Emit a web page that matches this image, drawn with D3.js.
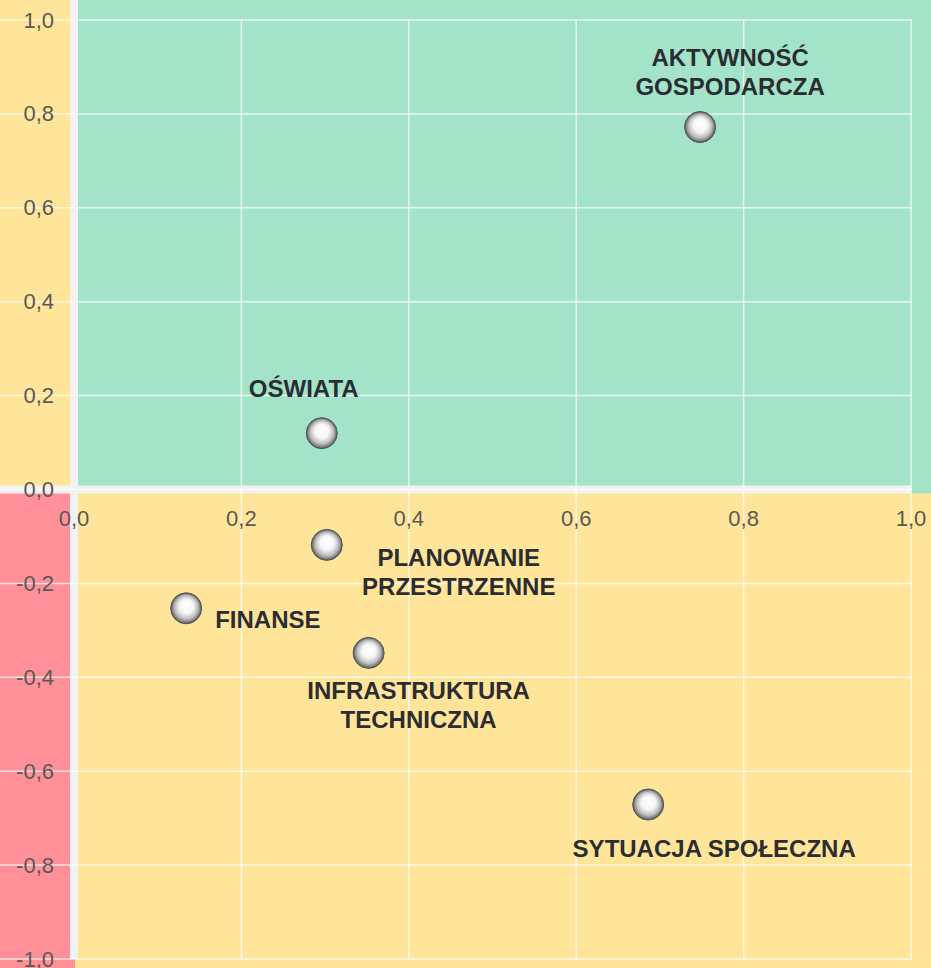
<!DOCTYPE html>
<html>
<head>
<meta charset="utf-8">
<script src="https://cdn.jsdelivr.net/npm/d3@7"></script>
<style>
  html, body { margin: 0; padding: 0; background: #F2F2F2; }
  svg { display: block; }
</style>
</head>
<body>
<svg id="chart" width="931" height="968"></svg>
<script>
// ---- data ----
const categories = ["AKTYWNOŚĆ\nGOSPODARCZA", "OŚWIATA", "PLANOWANIE\nPRZESTRZENNE", "FINANSE", "INFRASTRUKTURA\nTECHNICZNA", "SYTUACJA SPOŁECZNA"];
const xValues = [0.748, 0.296, 0.302, 0.134, 0.352, 0.686];
const yValues = [0.772, 0.120, -0.118, -0.253, -0.348, -0.671];
const xTicks = [0, 0.2, 0.4, 0.6, 0.8, 1.0];
const yTicks = [-1.0, -0.8, -0.6, -0.4, -0.2, 0, 0.2, 0.4, 0.6, 0.8, 1.0];

// ---- layout (label placement relative to points) ----
const labelLayout = [
  { dx: 30, dy: -61, anchor: "middle" },
  { dx: -18, dy: -36, anchor: "middle" },
  { dx: 132, dy: 21, anchor: "middle" },
  { dx: 29, dy: 20, anchor: "start" },
  { dx: 50, dy: 46, anchor: "middle" },
  { dx: 66, dy: 52, anchor: "middle" }
];

const W = 931, H = 968;
const svg = d3.select("#chart");
const x = d3.scaleLinear().domain([0, 1]).range([74, 911]);
const y = d3.scaleLinear().domain([-1, 1]).range([959, 20]);
const fmt = v => d3.format(".1f")(v).replace(".", ",").replace("−", "-");

const cGreen = "#A3E4C9", cYellow = "#FFE599", cRed = "#FF9097", cGap = "#F2F2F2";
const gap = 4;
const x0 = x(0), y0 = y(0), x1 = x(1), yB = y(-1);

// background
svg.append("rect").attr("width", W).attr("height", H).attr("fill", cGap);
const bg = svg.append("g");
bg.append("rect").attr("x", 0).attr("y", 0).attr("width", x0 - gap).attr("height", y0 - gap).attr("fill", cYellow);
bg.append("rect").attr("x", x0 + gap).attr("y", 0).attr("width", W - x0 - gap).attr("height", y0 - gap).attr("fill", cGreen);
bg.append("rect").attr("x", x1).attr("y", y0 - gap - 0.5).attr("width", W - x1).attr("height", 2 * gap + 1).attr("fill", cGreen);
bg.append("rect").attr("x", 0).attr("y", y0 + gap).attr("width", x0 - gap).attr("height", yB - y0 - gap).attr("fill", cRed);
bg.append("rect").attr("x", 0).attr("y", yB).attr("width", x0 + 1).attr("height", H - yB).attr("fill", cRed);
bg.append("rect").attr("x", x0 + gap).attr("y", y0 + gap).attr("width", W - x0 - gap).attr("height", H - y0 - gap).attr("fill", cYellow);
bg.append("rect").attr("x", x0 + 1).attr("y", yB).attr("width", W - x0).attr("height", H - yB).attr("fill", cYellow);

// grid
const grid = svg.append("g").attr("stroke", "#ffffff").attr("stroke-opacity", 0.7).attr("stroke-width", 1.5);
grid.selectAll("line.h").data(yTicks).join("line")
  .attr("x1", 0).attr("x2", x1 + 1)
  .attr("y1", d => y(d)).attr("y2", d => y(d));
grid.selectAll("line.v").data(xTicks.filter(d => d !== 0)).join("line")
  .attr("x1", d => x(d)).attr("x2", d => x(d))
  .attr("y1", y(1)).attr("y2", yB);

// tick labels
const tickStyle = sel => sel.attr("font-family", "Liberation Sans, Arial, sans-serif")
  .attr("font-size", 22).attr("fill", "#595959");
svg.append("g").selectAll("text").data(yTicks).join("text")
  .call(tickStyle)
  .attr("x", 54).attr("y", d => y(d))
  .attr("text-anchor", "end").attr("dominant-baseline", "central")
  .text(fmt);
svg.append("g").selectAll("text").data(xTicks).join("text")
  .call(tickStyle)
  .attr("x", d => x(d)).attr("y", y0 + 29)
  .attr("text-anchor", "middle").attr("dominant-baseline", "central")
  .text(fmt);

// ball gradient
const defs = svg.append("defs");
const grad = defs.append("radialGradient").attr("id", "ball")
  .attr("cx", "0.5").attr("cy", "0.5").attr("r", "0.5").attr("fx", "0.52").attr("fy", "0.38");
grad.append("stop").attr("offset", "0%").attr("stop-color", "#ffffff");
grad.append("stop").attr("offset", "45%").attr("stop-color", "#f6f6f6");
grad.append("stop").attr("offset", "75%").attr("stop-color", "#bdbdbd");
grad.append("stop").attr("offset", "92%").attr("stop-color", "#7a7a7a");
grad.append("stop").attr("offset", "100%").attr("stop-color", "#4f4f4f");

const pts = categories.map((c, i) => ({ name: c, x: xValues[i], y: yValues[i], lay: labelLayout[i] }));

svg.append("g").selectAll("circle").data(pts).join("circle")
  .attr("cx", d => x(d.x)).attr("cy", d => y(d.y)).attr("r", 15.5)
  .attr("fill", "url(#ball)").attr("stroke", "#555555").attr("stroke-width", 1);

// labels
const lbl = svg.append("g").selectAll("text").data(pts).join("text")
  .attr("font-family", "Liberation Sans, Arial, sans-serif")
  .attr("font-size", 24).attr("font-weight", "bold").attr("fill", "#2b2d33")
  .attr("text-anchor", d => d.lay.anchor);
lbl.each(function(d) {
  const lines = d.name.split("\n");
  const t = d3.select(this);
  lines.forEach((ln, k) => {
    t.append("tspan")
      .attr("x", x(d.x) + d.lay.dx)
      .attr("y", y(d.y) + d.lay.dy + k * 29)
      .text(ln);
  });
});
</script>
</body>
</html>
